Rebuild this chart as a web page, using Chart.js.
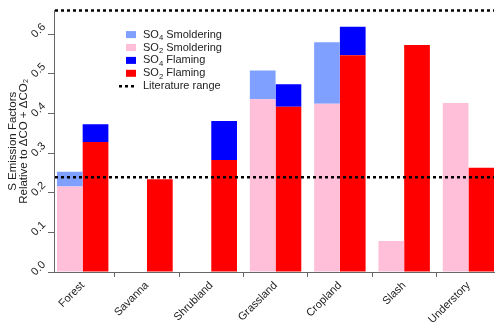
<!DOCTYPE html>
<html>
<head>
<meta charset="utf-8">
<script src="https://cdn.jsdelivr.net/npm/chart.js@4.4.1/dist/chart.umd.min.js"></script>
<style>
  html, body { margin: 0; padding: 0; background: #fff; }
  #wrap { width: 500px; height: 330px; }
</style>
</head>
<body>
<div id="wrap"><canvas id="sChart" width="500" height="330"></canvas></div>
<script>
// values (null = no bar)
const categories = ['Forest', 'Savanna', 'Shrubland', 'Grassland', 'Cropland', 'Slash', 'Understory'];
const so2Smoldering = [0.216, null, null, 0.436, 0.425, 0.078, 0.427];
const so4Smoldering = [0.037, null, null, 0.073, 0.155, null, null];
const so2Flaming = [0.328, 0.234, 0.283, 0.417, 0.547, 0.573, 0.263];
const so4Flaming = [0.045, null, 0.098, 0.057, 0.072, null, null];
const literatureRange = [0.239, 0.66];
const yTicks = [0, 0.1, 0.2, 0.3, 0.4, 0.5, 0.6];

const FONT = '"Liberation Sans", Arial, Helvetica, sans-serif';
Chart.defaults.font.family = FONT;
Chart.defaults.color = '#222';

const toPoints = arr => categories.map((c, i) => ({ x: i, y: arr[i] }));

// draws text with unicode subscript digits as small lowered digits (like R plotmath)
const SUBS = '₀₁₂₃₄₅₆₇₈₉';
function drawSubText(ctx, text, x, y, size) {
    let cx = x;
    for (const ch of text) {
        const k = SUBS.indexOf(ch);
        if (k >= 0) {
            ctx.font = (size * 0.7) + 'px ' + FONT;
            ctx.fillText(String(k), cx, y + size * 0.3);
            cx += ctx.measureText(String(k)).width;
        } else {
            ctx.font = size + 'px ' + FONT;
            ctx.fillText(ch, cx, y);
            cx += ctx.measureText(ch).width;
        }
    }
}

const litPlugin = {
    id: 'litRange',
    afterDatasetsDraw(chart) {
        const { ctx, chartArea, scales } = chart;
        ctx.save();
        ctx.strokeStyle = '#000';
        ctx.lineWidth = 2.5;
        ctx.setLineDash([3, 3]);
        literatureRange.forEach(v => {
            const y = scales.y.getPixelForValue(v);
            ctx.beginPath();
            ctx.moveTo(chartArea.left + 1, y);
            ctx.lineTo(chartArea.right, y);
            ctx.stroke();
        });
        ctx.restore();
    }
};

const legendPlugin = {
    id: 'boxLegend',
    afterDraw(chart) {
        const { ctx, chartArea } = chart;
        const ds = chart.data.datasets;
        const items = [ds[1], ds[0], ds[3], ds[2]];
        const x0 = chartArea.left + 72;
        const y0 = chartArea.top + 24;
        const row = 12.9;
        ctx.save();
        ctx.textBaseline = 'middle';
        items.forEach((d, i) => {
            const y = y0 + i * row;
            ctx.fillStyle = d.backgroundColor;
            ctx.fillRect(x0, y - 3.5, 10, 7);
            ctx.fillStyle = '#222';
            drawSubText(ctx, d.label, x0 + 17, y, 11);
        });
        const y = y0 + 4 * row;
        ctx.strokeStyle = '#000';
        ctx.lineWidth = 2.5;
        ctx.setLineDash([3, 3]);
        ctx.beginPath();
        ctx.moveTo(x0 - 7, y);
        ctx.lineTo(x0 + 10, y);
        ctx.stroke();
        ctx.setLineDash([]);
        ctx.fillStyle = '#222';
        drawSubText(ctx, 'Literature range', x0 + 17, y, 11);
        ctx.restore();
    }
};

const ctx = document.getElementById('sChart').getContext('2d');
const chart = new Chart(ctx, {
    type: 'bar',
    data: {
        datasets: [
            { label: 'SO₂ Smoldering', data: toPoints(so2Smoldering), stack: 's', backgroundColor: '#ffbfd8' },
            { label: 'SO₄ Smoldering', data: toPoints(so4Smoldering), stack: 's', backgroundColor: '#80a0ff' },
            { label: 'SO₂ Flaming', data: toPoints(so2Flaming), stack: 'f', backgroundColor: '#ff0000' },
            { label: 'SO₄ Flaming', data: toPoints(so4Flaming), stack: 'f', backgroundColor: '#0000ff' },
        ]
    },
    options: {
        responsive: false,
        animation: false,
        layout: { padding: { left: 0, right: 6, top: 5, bottom: 0 } },
        datasets: {
            bar: { categoryPercentage: 0.8, barPercentage: 1.0, borderWidth: 0 }
        },
        plugins: {
            legend: { display: false },
            tooltip: { enabled: false }
        },
        scales: {
            x: {
                type: 'linear',
                min: -0.446,
                max: 6.397,
                offset: false,
                afterBuildTicks: s => { s.ticks = categories.map((c, i) => ({ value: i })); },
                afterFit: s => { s.height = 58; },
                ticks: {
                    callback: v => categories[v],
                    autoSkip: false,
                    minRotation: 45,
                    maxRotation: 45,
                    padding: 2,
                    font: { size: 11 }
                },
                grid: { drawOnChartArea: false, drawTicks: true, tickLength: 5, color: '#666' },
                border: { color: '#666', width: 1 }
            },
            y: {
                stacked: true,
                min: 0,
                max: 0.66,
                afterBuildTicks: s => { s.ticks = yTicks.map(v => ({ value: v })); },
                afterFit: s => { s.width = 54; },
                ticks: {
                    callback: v => v.toFixed(1),
                    minRotation: 45,
                    maxRotation: 45,
                    padding: 4,
                    labelOffset: -9,
                    font: { size: 11 }
                },
                grid: { drawOnChartArea: false, drawTicks: true, tickLength: 6, color: '#666' },
                border: { color: '#666', width: 1 },
                title: {
                    display: true,
                    text: ['S Emission Factors', 'Relative to ΔCO + ΔCO₂'],
                    font: { size: 11.5, lineHeight: 0.9 },
                    padding: { top: 8, bottom: 0 },
                    color: '#222'
                }
            }
        }
    },
    plugins: [litPlugin, legendPlugin]
});
</script>
</body>
</html>
